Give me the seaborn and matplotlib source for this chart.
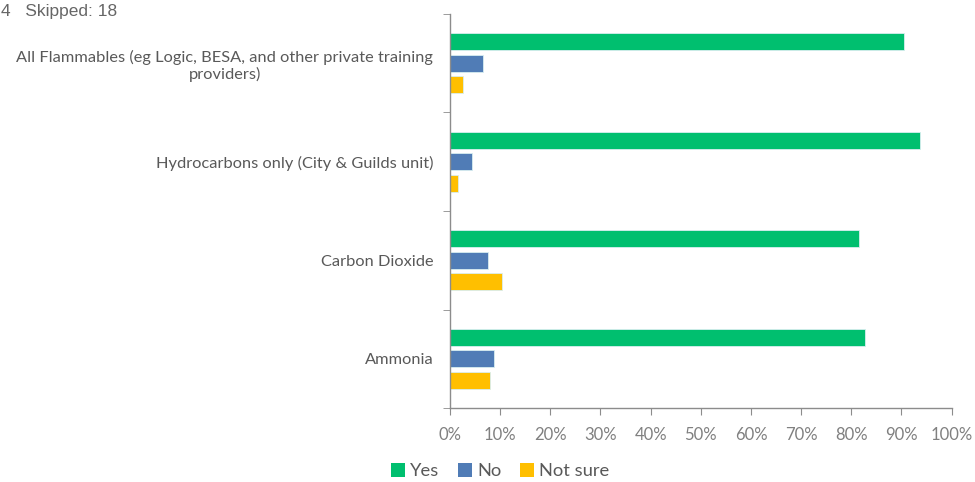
import pandas as pd
import matplotlib.pyplot as plt
import seaborn as sns
from matplotlib.patches import Patch

# Data (percent of respondents)
categories = ["All Flammables (eg Logic, BESA, and other private training\nproviders)",
              "Hydrocarbons only (City & Guilds unit)",
              "Carbon Dioxide",
              "Ammonia"]
responses = ["Yes", "No", "Not sure"]
yes_vals = [90.6, 93.8, 81.5, 82.7]
no_vals = [6.6, 4.4, 7.6, 8.8]
notsure_vals = [2.6, 1.6, 10.4, 8.0]
colors = ["#00BF6F", "#507CB6", "#FFBF00"]
xticks = list(range(0, 101, 10))

rows = []
for i, cat in enumerate(categories):
    for resp, vals in zip(responses, [yes_vals, no_vals, notsure_vals]):
        rows.append({"category": cat, "response": resp, "value": vals[i]})
data = pd.DataFrame(rows)

sns.set_style("white")
plt.rcParams['font.family'] = ['Lato', 'DejaVu Sans']

fig = plt.figure(figsize=(9.75, 4.82), dpi=100)
ax = fig.add_axes([0.4615, 0.1535, 0.5145, 0.8175])

sns.barplot(data=data, x="value", y="category", hue="response",
            hue_order=responses, palette=colors, saturation=1, orient="h",
            width=0.66, gap=0.22, edgecolor="#d8eef0", linewidth=0.6,
            legend=False, ax=ax)

ax.set_xlim(0, 100)
ax.set_ylim(3.5, -0.5)
ax.set_xticks(xticks)
ax.set_xticklabels([f"{t}%" for t in xticks])
ax.set_xlabel("")
ax.set_ylabel("")

grey = "#8c8c8c"
for side in ["top", "right"]:
    ax.spines[side].set_visible(False)
for side in ["left", "bottom"]:
    ax.spines[side].set_color(grey)
    ax.spines[side].set_linewidth(1.0)

ax.tick_params(axis="x", colors=grey, labelcolor="#808080", labelsize=12,
               length=5, direction="out", bottom=True, pad=9)
ax.tick_params(axis="y", which="major", length=0, labelsize=11.8,
               labelcolor="#595959", pad=12)
ax.set_yticks([-0.5, 0.5, 1.5, 2.5, 3.5], minor=True)
ax.tick_params(axis="y", which="minor", length=5, color=grey, left=True)
for lbl in ax.get_yticklabels():
    lbl.set_multialignment("center")

fig.text(0.001, 0.976, "4   Skipped: 18", fontsize=12.5, color="#666666",
         family=["Liberation Sans", "DejaVu Sans"], va="center", ha="left")

handles = [Patch(facecolor=c, edgecolor="none") for c in colors]
fig.legend(handles, responses, loc="center", bbox_to_anchor=(0.513, 0.022),
           ncol=3, frameon=False, fontsize=13.2, handlelength=0.75,
           handleheight=0.75, handletextpad=0.3, columnspacing=1.0,
           labelcolor="#595959")

fig.savefig("out.png", dpi=100)
